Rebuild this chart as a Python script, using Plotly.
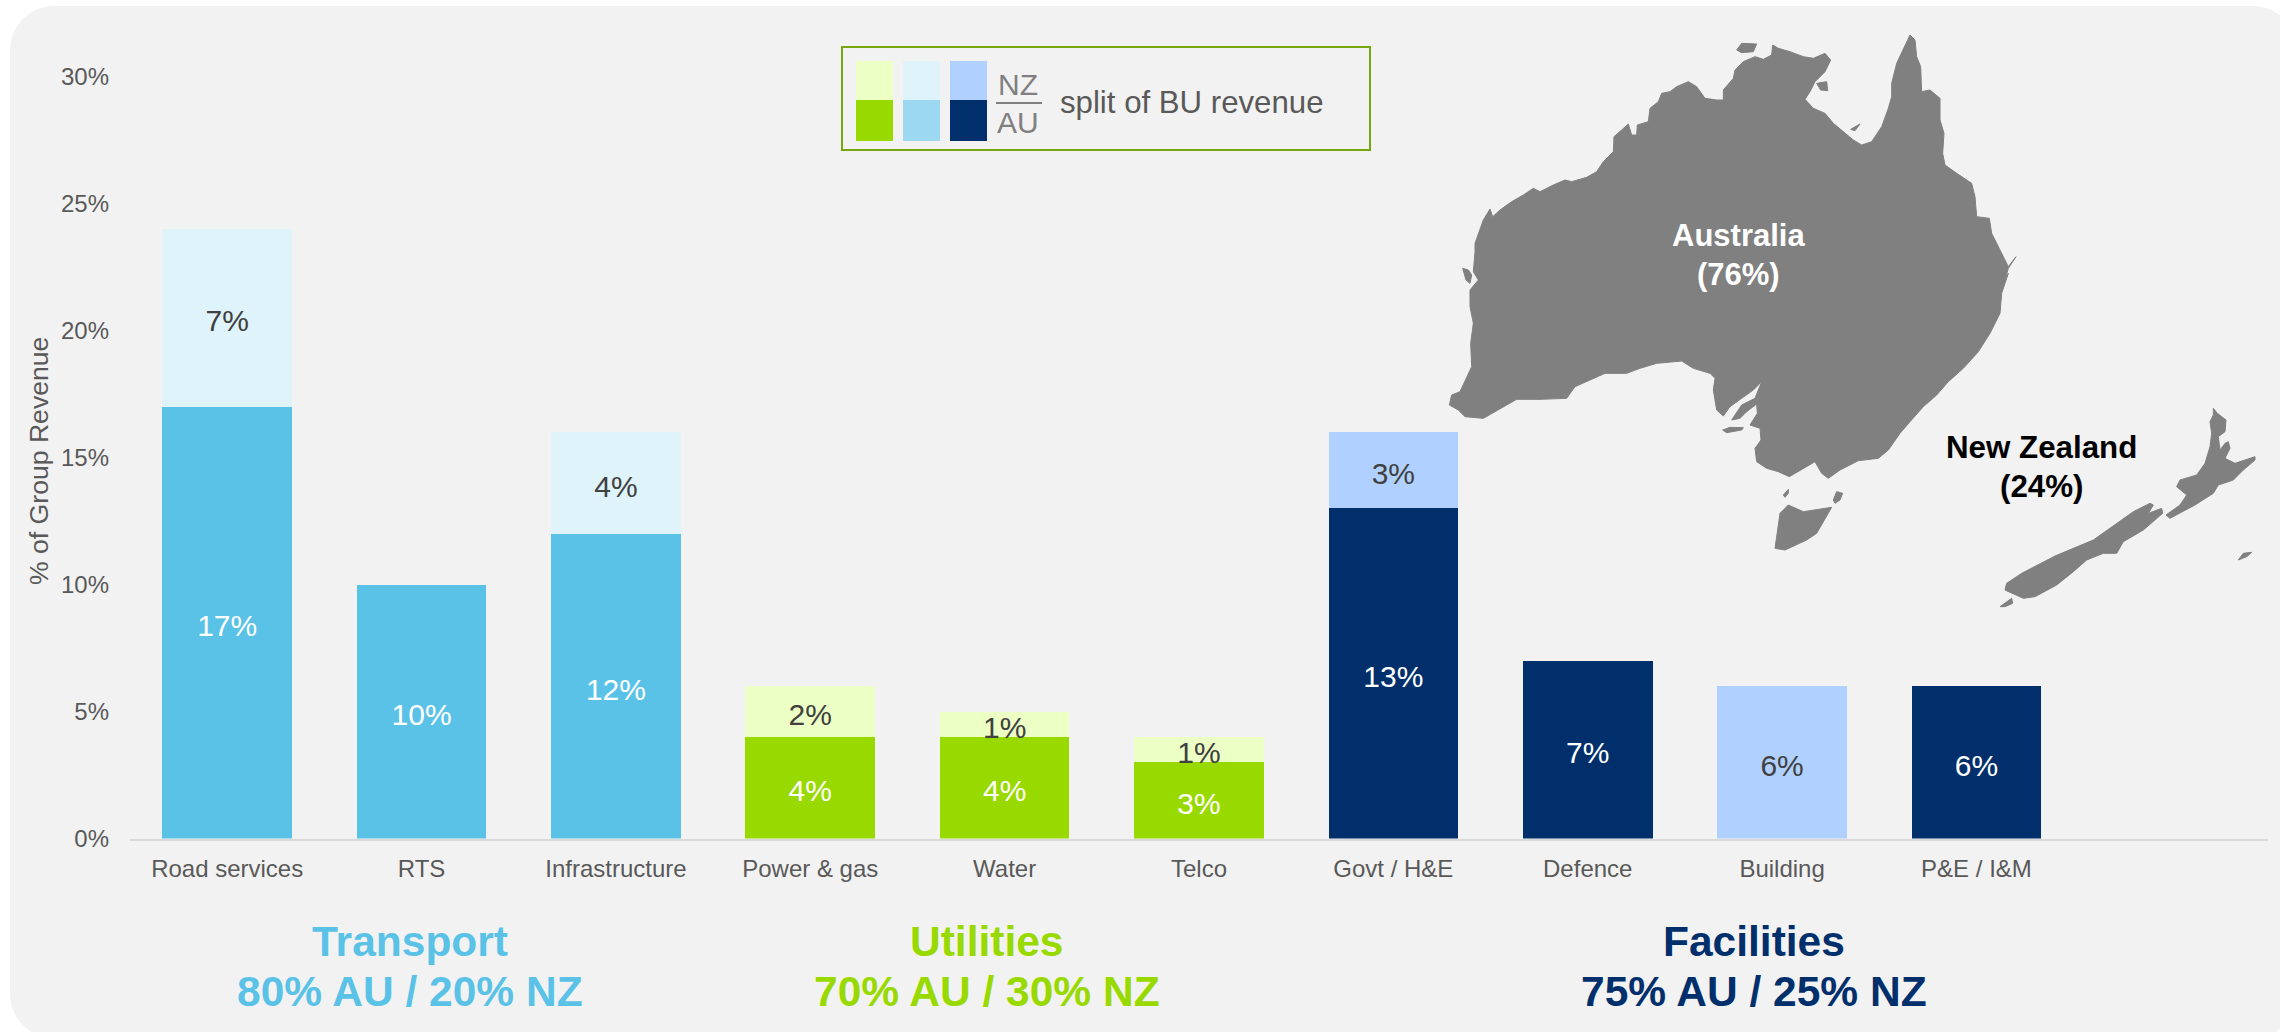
import plotly.graph_objects as go

# ---------- chart data ----------
categories = ["Road services", "RTS", "Infrastructure", "Power & gas", "Water", "Telco",
              "Govt / H&E", "Defence", "Building", "P&E / I&M", " "]
au_values = [17, 10, 12, 4, 4, 3, 13, 7, 0, 6, 0]
nz_values = [7, 0, 4, 2, 1, 1, 3, 0, 6, 0, 0]
groups = ["T", "T", "T", "U", "U", "U", "F", "F", "F", "F", "F"]
y_ticks = [0, 5, 10, 15, 20, 25, 30]

AU_COL = {"T": "#5BC2E7", "U": "#98D900", "F": "#002F6C"}
NZ_COL = {"T": "#DFF3FA", "U": "#ECFFC4", "F": "#B0D1FF"}
LEG_AU = ["#98D900", "#9DD8F2", "#002F6C"]
LEG_NZ = ["#ECFFC4", "#DFF3FA", "#B0D1FF"]
FONT = "Liberation Sans"

group_titles = [("Transport", "80% AU / 20% NZ", 410, "#5BC2E7"),
                ("Utilities", "70% AU / 30% NZ", 987, "#98D900"),
                ("Facilities", "75% AU / 25% NZ", 1754, "#002F6C")]

# ---------- map outlines (traced, reference pixels via zoomed crops) ----------
def seg(ox, oy, pts):
    return [(ox + a / 3, oy + b / 3) for a, b in pts]

aus_nw = [(130,600),(150,567),(158,590),(180,570),(215,545),(250,525),(280,505),(300,515),(340,495),
          (375,480),(395,485),(440,472),(470,455),(490,425),(520,395),(522,350),(545,330),(565,312),
          (575,345),(590,345),(592,315),(625,305),(630,265),(655,245),(665,220),(690,215),(710,200),
          (745,185),(770,200),(780,215)]
aus_ne = [(15,235),(50,240),(70,240),(70,210),(100,175),(105,150),(130,125),(165,110),(190,118),
          (215,105),(218,75),(235,85),(270,95),(310,110),(340,115),(375,100),(392,120),(375,155),
          (345,185),(330,215),(315,238),(340,265),(375,280),(400,310),(430,335),(460,360),(485,375),
          (515,365),(545,320),(565,265),(575,230),(575,190),(590,130),(610,90),(630,45),(645,60),
          (650,110),(662,140),(665,215),(690,210),(720,235),(720,300),(732,340),(728,400),(735,435),
          (770,460),(815,490),(825,530),(830,590),(868,595),(875,640),(900,690),(925,740),(948,710),
          (925,745),(915,780)]
aus_se = [(925,10),(905,70),(900,130),(870,190),(835,245),(790,295),(745,335),(710,375),(670,410),
          (630,455),(600,490),(565,540),(535,565),(475,572),(420,600),(385,625),(365,610),(345,575),
          (300,600),(268,620),(235,605),(200,595),(170,575),(165,535),(183,510),(180,475),(150,465),
          (172,430),(170,402),(140,425),(120,445),(95,450),(125,405),(165,385),(185,335),(160,360),
          (125,385),(90,410),(70,438),(50,420),(40,360),(45,325),(30,310),(0,300)]
aus_sw = [(760,505),(725,483),(650,490),(600,505),(560,520),(495,520),(430,548),(405,560),(380,595),
          (300,598),(230,598),(190,620),(130,655),(75,650),(55,630),(28,615),(35,585),(60,575),(80,530),
          (95,500),(92,430),(100,370),(90,320),(90,270),(115,240),(100,215),(105,155),(105,130),(130,60)]
australia = seg(1440, 20, aus_nw) + seg(1700, 20, aus_ne) + seg(1700, 270, aus_se) + seg(1440, 200, aus_sw)
tasmania = seg(1700, 270, [(265,705),(310,725),(395,712),(350,790),(320,810),(255,840),(225,835),(235,770),(240,730)])
kangaroo = seg(1700, 270, [(68,480),(90,472),(130,473),(125,480),(80,488)])
king = seg(1700, 270, [(250,675),(265,658),(265,670),(255,682)])
flinders = seg(1700, 270, [(400,690),(410,665),(428,670),(420,690),(405,700)])
melville = seg(1700, 20, [(110,90),(125,70),(170,72),(160,95),(125,98)])
groote = seg(1700, 20, [(350,190),(380,185),(383,212),(362,210)])
mornington = seg(1700, 20, [(452,328),(480,312),(465,332)])
dirk = seg(1440, 200, [(68,205),(78,240),(90,250),(95,225),(85,210)])
nz_north = seg(1980, 390, [(700,55),(712,70),(738,90),(735,125),(715,140),(720,180),(735,160),(745,155),
                           (750,175),(735,205),(765,220),(825,200),(825,210),(790,240),(760,270),(715,285),
                           (700,310),(645,345),(570,385),(558,375),(600,345),(620,315),(590,290),(600,270),
                           (650,255),(675,220),(690,170),(695,130),(690,95),(700,75)])
nz_south = seg(1980, 390, [(510,340),(520,345),(505,370),(545,355),(548,370),(520,395),(490,420),(430,455),
                           (410,490),(370,490),(320,510),(280,545),(230,585),(165,620),(130,625),(75,600),
                           (80,580),(125,550),(225,498),(340,450),(410,400),(460,365)])
stewart = seg(1980, 390, [(60,650),(95,625),(98,640),(75,650)])
chatham = seg(1980, 390, [(775,510),(790,490),(815,487),(800,500)])
land = [australia, tasmania, kangaroo, king, flinders, melville, groote, mornington, dirk,
        nz_north, nz_south, stewart, chatham]

# ---------- figure ----------
fig = go.Figure()
lab = lambda v: f"{v}%" if v else ""

fig.add_trace(go.Bar(x=categories, y=au_values, hoverinfo="skip",
                     marker=dict(color=[AU_COL[g] for g in groups], line_width=0)))
fig.add_trace(go.Bar(x=categories, y=nz_values, hoverinfo="skip",
                     marker=dict(color=[NZ_COL[g] for g in groups], line_width=0)))

# value labels sit just under the middle of each stacked segment
LABEL_DROP = 0.24
fig.add_trace(go.Scatter(x=categories, y=[a / 2 - LABEL_DROP for a in au_values], mode="text",
                         text=[lab(v) for v in au_values], textposition="middle center",
                         textfont=dict(family=FONT, size=30, color="#FFFFFF"), hoverinfo="skip"))
fig.add_trace(go.Scatter(x=categories, y=[a + n / 2 - LABEL_DROP for a, n in zip(au_values, nz_values)], mode="text",
                         text=[lab(v) for v in nz_values], textposition="middle center",
                         textfont=dict(family=FONT, size=30, color="#404040"), hoverinfo="skip"))

mx, my = [], []
for poly in land:
    mx += [p[0] for p in poly] + [poly[0][0], None]
    my += [p[1] for p in poly] + [poly[0][1], None]
fig.add_trace(go.Scatter(x=mx, y=my, xaxis="x2", yaxis="y2", mode="lines", fill="toself",
                         fillcolor="#808080", line=dict(color="#808080", width=1), hoverinfo="skip"))

W, H = 2280, 1032

def px(x, y):
    return f"{x / W:.6f},{1 - y / H:.6f}"

# rounded background panel, running slightly past the right and bottom edges of the page
L, T, R, B, r = 10, 6, 2297, 1038, 44
c = r * 0.45
panel = (f"M {px(L, T + r)} C {px(L, T + c)} {px(L + c, T)} {px(L + r, T)} "
         f"L {px(R - r, T)} C {px(R - c, T)} {px(R, T + c)} {px(R, T + r)} "
         f"L {px(R, B - r)} C {px(R, B - c)} {px(R - c, B)} {px(R - r, B)} "
         f"L {px(L + r, B)} C {px(L + c, B)} {px(L, B - c)} {px(L, B - r)} Z")

shapes = [dict(type="path", xref="paper", yref="paper", layer="below", line_width=0, fillcolor="#F2F2F2", path=panel),
          dict(type="rect", xref="x2", yref="y2", x0=842, x1=1370, y0=47, y1=150,
               line=dict(color="#76A70F", width=2), fillcolor="rgba(0,0,0,0)"),
          dict(type="line", xref="x2", yref="y2", x0=996, x1=1042, y0=103, y1=103,
               line=dict(color="#808080", width=2))]
for x0, x1, c_nz, c_au in zip((856, 903, 950), (893, 940, 987), LEG_NZ, LEG_AU):
    shapes.append(dict(type="rect", xref="x2", yref="y2", x0=x0, x1=x1, y0=61, y1=100, line_width=0, fillcolor=c_nz))
    shapes.append(dict(type="rect", xref="x2", yref="y2", x0=x0, x1=x1, y0=100, y1=141, line_width=0, fillcolor=c_au))

def note(text, x, y, size, color, bold=False, angle=0):
    return dict(text=f"<b>{text}</b>" if bold else text, x=x, y=y, xref="x2", yref="y2", showarrow=False,
                xanchor="center", yanchor="middle", textangle=angle,
                font=dict(family=FONT, size=size, color=color))

annotations = [note("NZ", 1018, 84, 30, "#808080"), note("AU", 1018, 122, 30, "#808080"),
               note("split of BU revenue", 1192, 102, 31.2, "#595959"),
               note("Australia", 1738, 235, 31, "#FFFFFF", True), note("(76%)", 1738, 274, 31, "#FFFFFF", True),
               note("New Zealand", 2041, 447, 31.3, "#000000", True), note("(24%)", 2041, 486, 31.3, "#000000", True),
               note("% of Group Revenue", 39, 461, 26.6, "#595959", angle=-90)]
for t1, t2, cx, col in group_titles:
    annotations += [note(t1, cx, 941, 42.5, col, True), note(t2, cx, 991, 42.5, col, True)]

fig.update_layout(
    width=W, height=H, margin=dict(l=0, r=0, t=0, b=0), paper_bgcolor="#FFFFFF", plot_bgcolor="rgba(0,0,0,0)",
    barmode="stack", bargap=1/3, showlegend=False, shapes=shapes, annotations=annotations,
    xaxis=dict(domain=[130/W, 2268/W], type="category", categoryorder="array", categoryarray=categories,
               range=[-0.5, 10.5], showgrid=False, zeroline=False, showline=True, linecolor="#D9D9D9", linewidth=2,
               ticks="", ticklabelstandoff=8, tickfont=dict(family=FONT, size=24, color="#595959"), anchor="y",
               automargin=False),
    yaxis=dict(domain=[1 - 838.5/H, 1 - 76.5/H], range=[0, 30], tickvals=y_ticks, ticktext=[f"{v}%" for v in y_ticks],
               showgrid=False, zeroline=False, showline=False, ticks="", ticklabelstandoff=20,
               tickfont=dict(family=FONT, size=24, color="#595959"), anchor="x", automargin=False),
    xaxis2=dict(domain=[0, 1], range=[0, W], visible=False, anchor="y2", automargin=False),
    yaxis2=dict(domain=[0, 1], range=[H, 0], visible=False, anchor="x2", automargin=False),
)

fig.write_html("out.html", config={"displayModeBar": False}, post_script="document.body.style.margin='0';")
